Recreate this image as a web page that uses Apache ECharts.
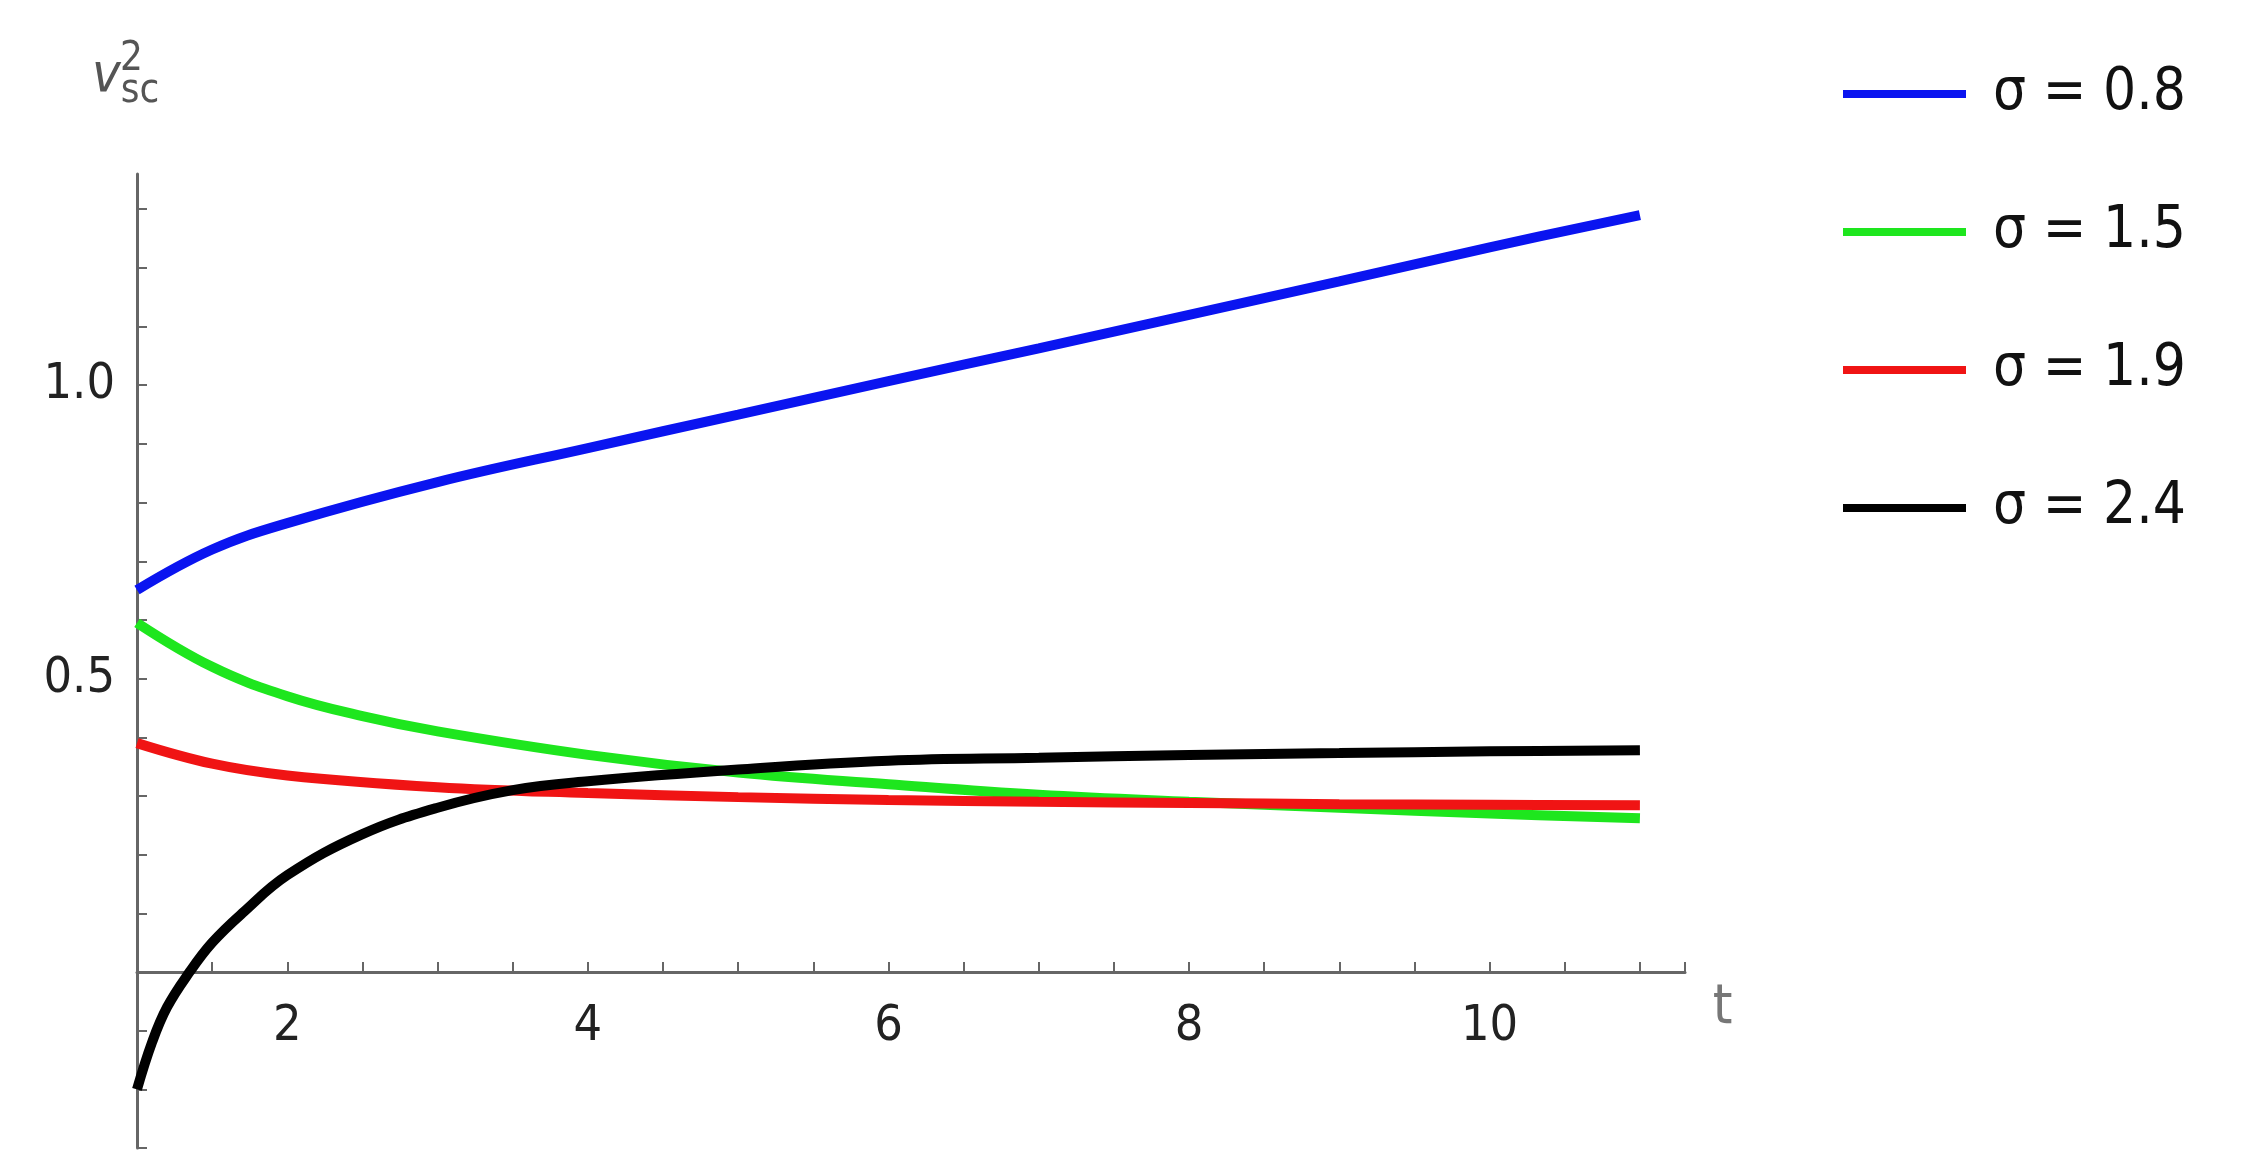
<!DOCTYPE html>
<html>
<head>
<meta charset="utf-8">
<script src="https://cdn.jsdelivr.net/npm/echarts@6/dist/echarts.min.js"></script>
<style>html,body{margin:0;padding:0;background:#fff}#c{width:2266px;height:1164px}</style>
</head>
<body>
<div id="c"></div>
<script>
// values
const tBlue = [1, 1.5, 2, 3, 4, 5, 6, 7, 8, 9, 10, 11];
const vBlue = [0.651, 0.72, 0.765, 0.835, 0.893, 0.95, 1.007, 1.063, 1.12, 1.177, 1.235, 1.29];
const tGreen = [1, 1.5, 2, 2.5, 3, 4, 5, 6, 7, 8, 9, 10, 11];
const vGreen = [0.595, 0.52, 0.47, 0.436, 0.41, 0.37, 0.34, 0.32, 0.302, 0.29, 0.28, 0.27, 0.262];
const tRed = [1, 1.5, 2, 3, 4, 5, 6, 7, 8, 9, 10, 11];
const vRed = [0.39, 0.355, 0.335, 0.315, 0.305, 0.298, 0.293, 0.29, 0.288, 0.286, 0.285, 0.284];
const tBlack = [1, 1.1, 1.2, 1.35, 1.5, 1.7, 2, 2.5, 3, 3.5, 4, 5, 6, 7, 8, 9, 10, 11];
const vBlack = [-0.2, -0.12, -0.06, 0.0, 0.05, 0.1, 0.165, 0.235, 0.28, 0.31, 0.325, 0.345, 0.36, 0.365, 0.37, 0.373, 0.376, 0.378];
const names = ['σ = 0.8', 'σ = 1.5', 'σ = 1.9', 'σ = 2.4'];
const colors = ['#0a14f0', '#1ee61e', '#f01414', '#000000'];
const xLabels = [2, 4, 6, 8, 10];
const yLabels = [0.5, 1.0];

const zip = (a, b) => a.map((x, i) => [x, b[i]]);
const datas = [zip(tBlue, vBlue), zip(tGreen, vGreen), zip(tRed, vRed), zip(tBlack, vBlack)];

const font = 'Liberation Sans Narrow, DejaVu Sans Condensed, sans-serif';
const chart = echarts.init(document.getElementById('c'));
const axisCol = '#666';
chart.setOption({
  animation: false,
  grid: { left: 137, right: 581, top: 174, bottom: 16, containLabel: false },
  xAxis: {
    type: 'value', min: 1, max: 11.3, interval: 0.5,
    axisLine: { onZero: true, lineStyle: { color: axisCol, width: 3 } },
    axisTick: { inside: true, length: 10, lineStyle: { color: axisCol, width: 2 } },
    splitLine: { show: false },
    axisLabel: { show: false }
  },
  yAxis: {
    type: 'value', min: -0.3, max: 1.36, interval: 0.1,
    axisLine: { show: true, onZero: false, lineStyle: { color: axisCol, width: 3 } },
    axisTick: { inside: true, length: 10, lineStyle: { color: axisCol, width: 2 } },
    splitLine: { show: false },
    axisLabel: {
      margin: 22, fontSize: 50, color: '#222', fontFamily: font,
      showMaxLabel: false,
      formatter: v => yLabels.some(y => Math.abs(y - v) < 1e-6) ? v.toFixed(1) : ''
    }
  },
  legend: {
    orient: 'vertical', left: 1838, top: 60, itemWidth: 123, itemHeight: 8, itemGap: 80,
    icon: 'rect', data: names,
    textStyle: { fontSize: 58, color: '#111', padding: [0, 0, 0, 22], fontFamily: font }
  },
  series: datas.map((d, i) => ({
    name: names[i], type: 'line', data: d, smooth: 0.4, showSymbol: false,
    lineStyle: { color: colors[i], width: 10 }, itemStyle: { color: colors[i] }
  }))
});

// x tick labels sit below the axis line at y = 0, placed through the chart's own scale
const labelTexts = xLabels.map(x => {
  const p = chart.convertToPixel({ gridIndex: 0 }, [x, 0]);
  return { type: 'text', x: p[0], y: p[1] + 30, style: { text: String(x), fontSize: 50, fill: '#222', fontFamily: font, align: 'center', verticalAlign: 'top' } };
});
const tPos = chart.convertToPixel({ gridIndex: 0 }, [11.55, 0]);
chart.setOption({
  graphic: labelTexts.concat([
    {
      type: 'text', left: 92, top: 50,
      style: {
        text: '{v|v}{s|sc}',
        rich: {
          v: { fontSize: 54, fontStyle: 'italic', fontFamily: font, fill: '#555' },
          s: { fontSize: 40, fontFamily: font, fill: '#555', padding: [30, 0, 0, 0] }
        }
      }
    },
    { type: 'text', left: 120, top: 40, style: { text: '2', fontSize: 40, fill: '#555', fontFamily: font } },
    { type: 'text', x: tPos[0], y: tPos[1] + 8, style: { text: 't', fontSize: 56, fill: '#777', fontFamily: font, align: 'center' } }
  ])
});
</script>
</body>
</html>
